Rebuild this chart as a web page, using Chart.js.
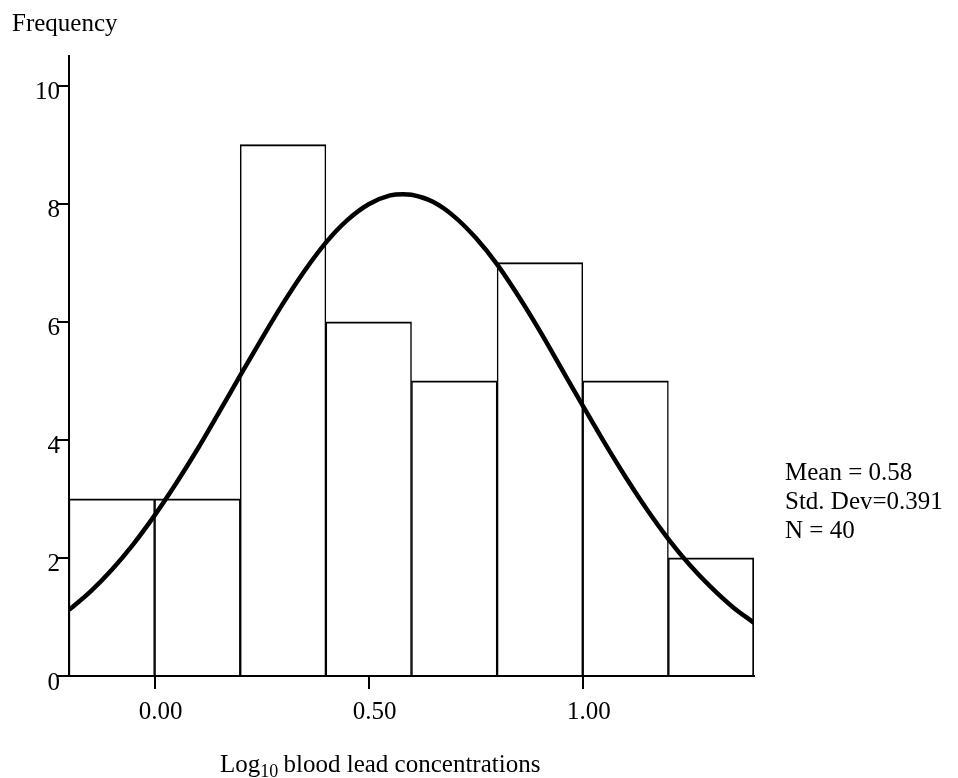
<!DOCTYPE html>
<html>
<head>
<meta charset="utf-8">
<script src="https://cdn.jsdelivr.net/npm/chart.js@4.4.1/dist/chart.umd.min.js"></script>
<style>
  html, body { margin: 0; padding: 0; background: #ffffff; }
  canvas { display: block; }
</style>
</head>
<body>
<canvas id="histChart" width="958" height="778"></canvas>
<script>
// histogram bins (log10 blood lead) and frequencies
var binEdges = [-0.2, 0.0, 0.2, 0.4, 0.6, 0.8, 1.0, 1.2, 1.4];
var binCounts = [3, 3, 9, 6, 5, 7, 5, 2];

// fitted normal curve
var curveX = [-0.2, -0.15, -0.1, -0.05, 0.0, 0.05, 0.1, 0.15, 0.2, 0.25, 0.3, 0.35, 0.4, 0.45, 0.5, 0.55, 0.58,
              0.6, 0.65, 0.7, 0.75, 0.8, 0.85, 0.9, 0.95, 1.0, 1.05, 1.1, 1.15, 1.2, 1.25, 1.3, 1.35, 1.4];
var curveY = [1.12, 1.43, 1.80, 2.23, 2.72, 3.26, 3.84, 4.46, 5.09, 5.71, 6.31, 6.86, 7.34, 7.72, 7.99, 8.14, 8.16,
              8.15, 8.03, 7.78, 7.42, 6.97, 6.43, 5.84, 5.21, 4.58, 3.96, 3.37, 2.82, 2.32, 1.88, 1.50, 1.17, 0.90];

var xTickValues = [0, 0.5, 1.0];
var yTickValues = [0, 2, 4, 6, 8, 10];

var yAxisLabel = "Frequency";
var statsLines = ["Mean = 0.58", "Std. Dev=0.391", "N = 40"];

const SERIF = "'Liberation Serif', 'Times New Roman', serif";

var barData = binCounts.map(function(c, i) {
    return { x: (binEdges[i] + binEdges[i + 1]) / 2, y: c };
});
var curveData = curveX.map(function(x, i) { return { x: x, y: curveY[i] }; });

// texts that sit outside the axes: y label, stats box, x title with subscript
const textPlugin = {
    id: 'spssTexts',
    afterDraw: function(chart) {
        var ctx = chart.ctx;
        var area = chart.chartArea;
        ctx.save();
        ctx.fillStyle = '#000';
        ctx.textBaseline = 'alphabetic';
        ctx.textAlign = 'left';
        ctx.font = "25px " + SERIF;
        ctx.fillText(yAxisLabel, 12, 31);

        statsLines.forEach(function(t, i) {
            ctx.fillText(t, area.right + 31, 480 + i * 29);
        });

        // Log10 blood lead concentrations
        var x = 220, base = 772;
        ctx.fillText("Log", x, base);
        x += ctx.measureText("Log").width;
        ctx.font = "18px " + SERIF;
        ctx.fillText("10", x, base + 5);
        x += ctx.measureText("10").width;
        ctx.font = "25px " + SERIF;
        ctx.fillText(" blood lead concentrations", x - 1, base);
        ctx.restore();
    }
};

var ctxHist = document.getElementById("histChart").getContext('2d');

var histChart = new Chart(ctxHist, {
    type: 'bar',
    data: {
        datasets: [{
            type: 'line',
            data: curveData,
            borderColor: '#000',
            borderWidth: 4.5,
            pointRadius: 0,
            fill: false,
            cubicInterpolationMode: 'monotone',
            order: 0
        }, {
            type: 'bar',
            data: barData,
            backgroundColor: '#ffffff',
            borderColor: '#000',
            borderWidth: function(c) {
                return { top: 2, bottom: 0, left: 1.5, right: c.dataIndex === binCounts.length - 1 ? 2 : 1.5 };
            },
            barPercentage: 1,
            categoryPercentage: 1,
            order: 1
        }]
    },
    options: {
        responsive: false,
        animation: false,
        events: [],
        layout: { padding: { top: 56, right: 204, left: 0, bottom: 0 } },
        plugins: {
            legend: { display: false },
            tooltip: { enabled: false }
        },
        scales: {
            x: {
                type: 'linear',
                min: binEdges[0],
                max: binEdges[binEdges.length - 1],
                offset: false,
                grid: { offset: false, drawOnChartArea: false, drawTicks: true, tickLength: 13, color: '#000', lineWidth: 2 },
                border: { display: true, color: '#000', width: 2 },
                afterBuildTicks: function(axis) {
                    axis.ticks = xTickValues.map(function(v) { return { value: v }; });
                },
                afterFit: function(axis) { axis.height = 102; },
                ticks: {
                    color: '#000',
                    font: { family: SERIF, size: 25 },
                    padding: 8,
                    labelOffset: 6,
                    maxRotation: 0,
                    callback: function(v) { return Number(v).toFixed(2); }
                }
            },
            y: {
                min: 0,
                max: 10.5,
                grid: { drawOnChartArea: false, drawTicks: true, tickLength: 12, color: '#000', lineWidth: 2 },
                border: { display: true, color: '#000', width: 2 },
                afterBuildTicks: function(axis) {
                    axis.ticks = yTickValues.map(function(v) { return { value: v }; });
                },
                afterFit: function(axis) { axis.width = 69; },
                ticks: {
                    color: '#000',
                    font: { family: SERIF, size: 25 },
                    padding: -3,
                    labelOffset: 7,
                    callback: function(v) { return String(v); }
                }
            }
        }
    },
    plugins: [textPlugin]
});
</script>
</body>
</html>
